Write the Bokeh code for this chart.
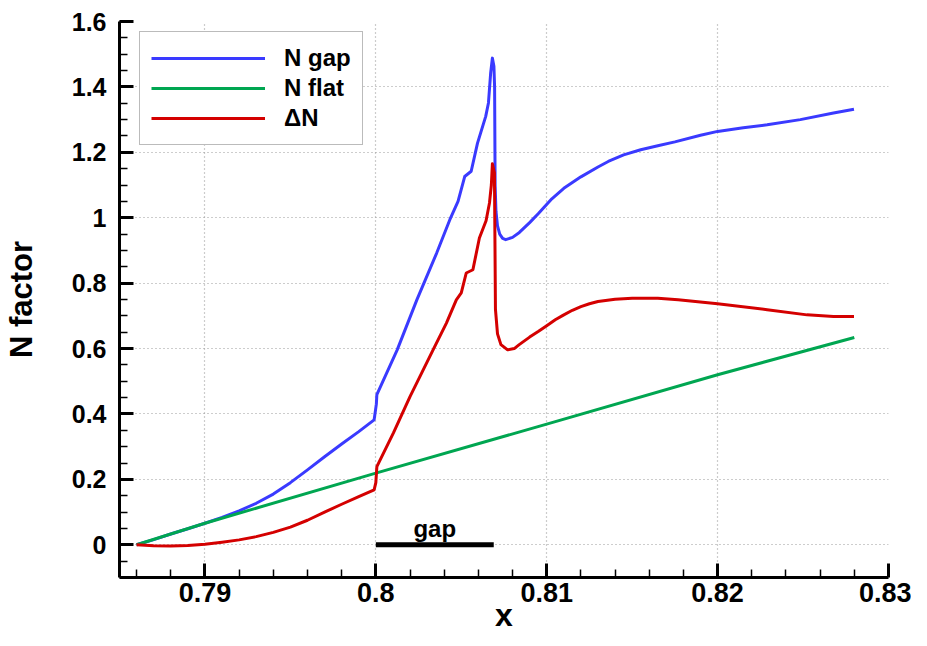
import numpy as np
from bokeh.plotting import figure
from bokeh.models import Range1d, FixedTicker
from bokeh.core.properties import value
from bokeh.embed import file_html
from bokeh.resources import INLINE

# ---- data ----
x_gap = [0.786, 0.787, 0.788, 0.789, 0.790, 0.791, 0.792, 0.793, 0.794, 0.795,
         0.796, 0.797, 0.798, 0.799, 0.7999, 0.80003, 0.80006, 0.80125, 0.8024,
         0.80356, 0.80433, 0.80481, 0.8052, 0.80558, 0.80595, 0.80643, 0.80659,
         0.80672, 0.80682, 0.80691, 0.80695, 0.80698, 0.80703, 0.80712, 0.80725,
         0.80742, 0.8076, 0.8080, 0.8084, 0.8090, 0.8095, 0.8103, 0.8110, 0.8120,
         0.8130, 0.8136, 0.8145, 0.8155, 0.8165, 0.8175, 0.8190, 0.8200, 0.8215,
         0.8229, 0.82484, 0.82678, 0.82798]
n_gap = [0.0, 0.016, 0.033, 0.049, 0.066, 0.084, 0.104, 0.127, 0.155, 0.190,
         0.229, 0.269, 0.308, 0.346, 0.382, 0.430, 0.459, 0.596, 0.749,
         0.892, 0.994, 1.050, 1.126, 1.142, 1.228, 1.310, 1.351,
         1.443, 1.488, 1.463, 1.400, 1.100, 1.020, 0.975, 0.950,
         0.937, 0.933, 0.940, 0.955, 0.985, 1.012, 1.058, 1.090, 1.125,
         1.155, 1.172, 1.192, 1.208, 1.220, 1.232, 1.252, 1.264, 1.275,
         1.284, 1.300, 1.320, 1.332]

x_flat = [0.786, 0.790, 0.800, 0.810, 0.820, 0.828]
n_flat = [0.0, 0.066, 0.219, 0.369, 0.520, 0.634]

x_dn = [0.786, 0.787, 0.788, 0.789, 0.790, 0.791, 0.792, 0.793, 0.794, 0.795,
        0.796, 0.797, 0.798, 0.799, 0.7999, 0.8000, 0.80006, 0.80103, 0.802,
        0.80335, 0.80413, 0.80471, 0.805, 0.80529, 0.80568, 0.80606, 0.80645,
        0.80665, 0.80676, 0.80682, 0.80694, 0.80700, 0.80712, 0.80732, 0.80771,
        0.8081, 0.80839, 0.8090, 0.8095, 0.8100, 0.8105, 0.8110, 0.8115,
        0.8120, 0.8125, 0.8130, 0.8140, 0.8150, 0.8165, 0.81769, 0.820,
        0.8229, 0.82523, 0.82678, 0.82798]
dn = [0.0, -0.003, -0.004, -0.002, 0.002, 0.008, 0.015, 0.025, 0.038, 0.054,
      0.075, 0.100, 0.124, 0.147, 0.168, 0.190, 0.239, 0.342, 0.453,
      0.596, 0.678, 0.749, 0.770, 0.831, 0.841, 0.938, 0.991,
      1.045, 1.100, 1.165, 1.137, 0.720, 0.645, 0.612, 0.596,
      0.600, 0.612, 0.635, 0.652, 0.670, 0.688, 0.703, 0.717,
      0.728, 0.737, 0.744, 0.751, 0.754, 0.754, 0.749, 0.737,
      0.719, 0.703, 0.698, 0.698]

gap_x = [0.800, 0.8069]
gap_y = [0.0, 0.0]
gap_text = ["gap"]

x_ticks = [0.79, 0.80, 0.81, 0.82, 0.83]
x_tick_labels = ["0.79", "0.8", "0.81", "0.82", "0.83"]
y_ticks = [0.0, 0.2, 0.4, 0.6, 0.8, 1.0, 1.2, 1.4, 1.6]
y_tick_labels = ["0", "0.2", "0.4", "0.6", "0.8", "1", "1.2", "1.4", "1.6"]

FONT = "Liberation Sans"

p = figure(width=911, height=637,
           x_range=Range1d(0.785, 0.83), y_range=Range1d(-0.1, 1.6),
           output_backend="svg", toolbar_location=None,
           min_border_left=112, min_border_right=23,
           min_border_top=21, min_border_bottom=60)
p.outline_line_color = None
p.background_fill_color = "white"
p.border_fill_color = "white"

x_minor = list(np.round(np.arange(0.786, 0.8290, 0.002), 4))
y_minor = list(np.round(np.arange(-0.1, 1.6001, 0.05), 3))

p.xaxis.ticker = FixedTicker(ticks=x_ticks, minor_ticks=x_minor)
p.yaxis.ticker = FixedTicker(ticks=y_ticks, minor_ticks=y_minor)
p.xaxis.major_label_overrides = {t: l for t, l in zip(x_ticks, x_tick_labels)}
p.yaxis.major_label_overrides = {t: l for t, l in zip(y_ticks, y_tick_labels)}

for ax in (p.xaxis[0], p.yaxis[0]):
    ax.axis_line_width = 3
    ax.axis_line_color = "black"
    ax.major_tick_in = 14
    ax.major_tick_out = 0
    ax.major_tick_line_width = 3
    ax.minor_tick_in = 8
    ax.minor_tick_out = 0
    ax.minor_tick_line_width = 1.5
    ax.major_label_text_font = FONT
    ax.major_label_text_font_style = "bold"
    ax.major_label_text_color = "black"
    ax.axis_label_text_font = FONT
    ax.axis_label_text_font_style = "bold"
    ax.axis_label_text_color = "black"

p.xaxis.axis_label = "x"
p.xaxis.axis_label_text_font_size = "32px"
p.xaxis.major_label_text_font_size = "27px"
p.xaxis.major_label_standoff = 5
p.xaxis.axis_label_standoff = -8

p.yaxis.axis_label = "N factor"
p.yaxis.axis_label_text_font_size = "31px"
p.yaxis.major_label_text_font_size = "25px"
p.yaxis.major_label_standoff = 13
p.yaxis.axis_label_standoff = 30

for g in (p.xgrid[0], p.ygrid[0]):
    g.grid_line_color = "#9a9a9a"
    g.grid_line_dash = "1 3"
    g.grid_line_width = 1.2

p.line(x_gap, n_gap, line_color="#3a3aff", line_width=3, line_join="round",
       legend_label="N gap")
p.line(x_flat, n_flat, line_color="#00a651", line_width=3, line_join="round",
       legend_label="N flat")
p.line(x_dn, dn, line_color="#d40000", line_width=3, line_join="round",
       legend_label="\u0394N")

p.line(gap_x, gap_y, line_color="black", line_width=5, line_cap="butt")
p.text(x=[sum(gap_x) / 2], y=[0.05], text=gap_text,
       text_font=value(FONT), text_font_style="bold", text_font_size="24px",
       text_align="center", text_baseline="alphabetic", text_color="black")

lg = p.legend[0]
lg.location = (20, 432)
lg.margin = 0
lg.padding = 11
lg.spacing = 0
lg.glyph_width = 114
lg.glyph_height = 30
lg.label_height = 30
lg.label_standoff = 19
lg.label_text_font = FONT
lg.label_text_font_style = "bold"
lg.label_text_font_size = "24px"
lg.label_text_color = "black"
lg.border_line_color = "#777777"
lg.border_line_width = 1.5
lg.background_fill_color = "white"
lg.background_fill_alpha = 1.0

open("out.html", "w").write(file_html(p, INLINE))
